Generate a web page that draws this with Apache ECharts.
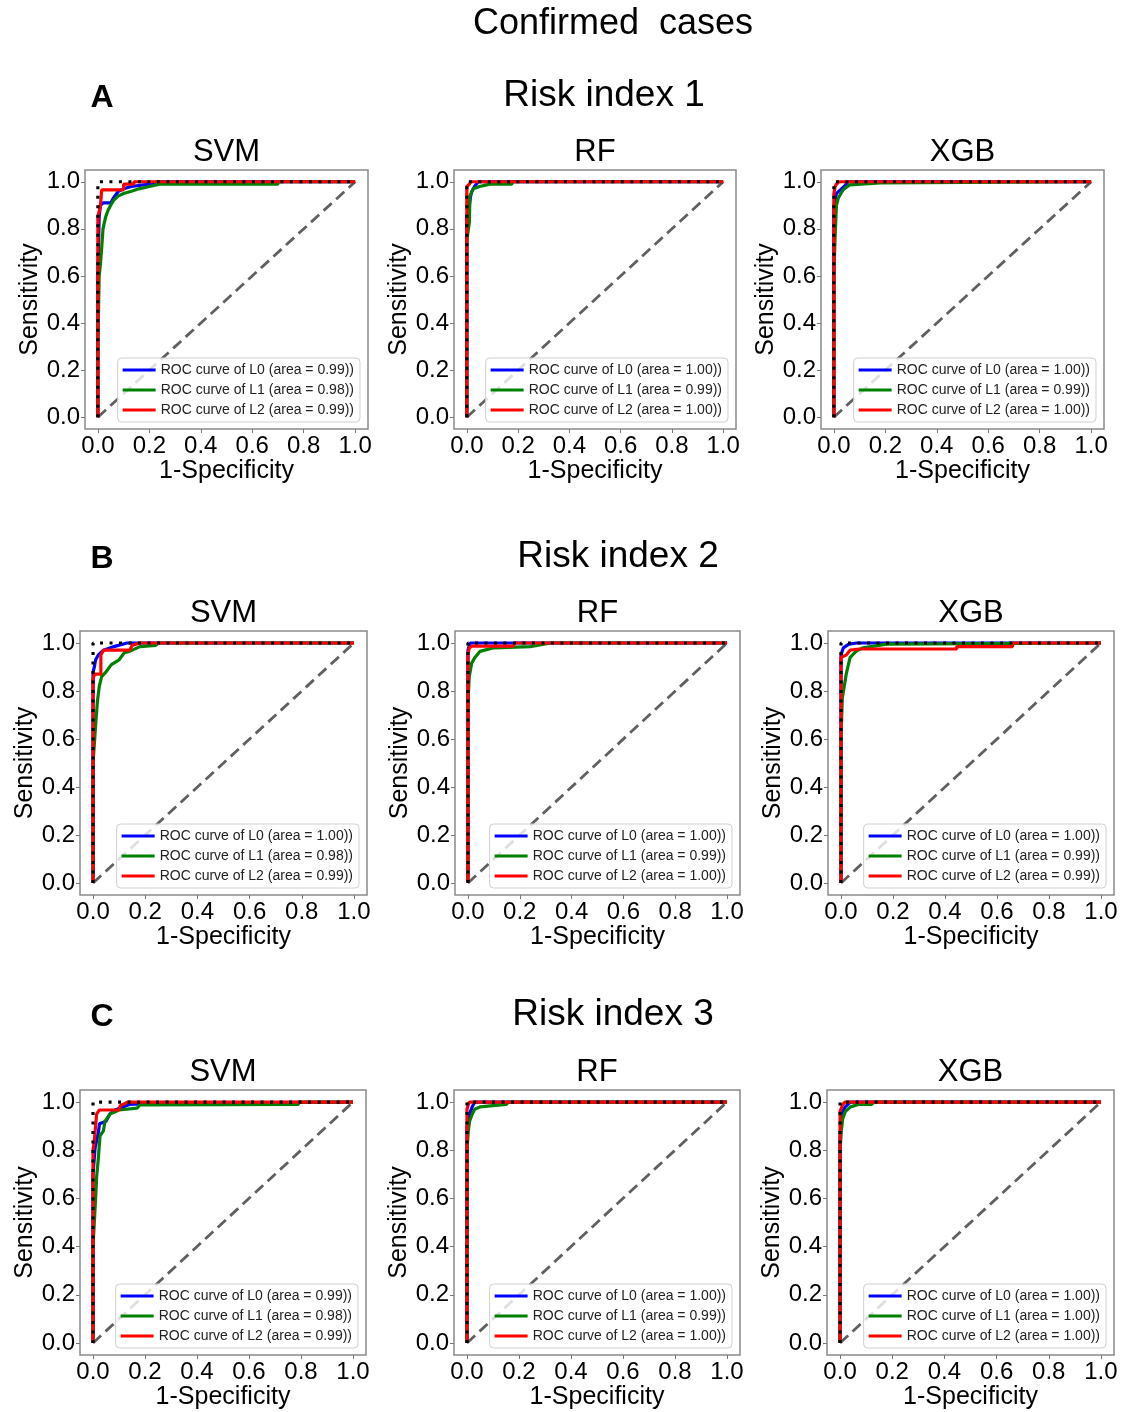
<!DOCTYPE html>
<html>
<head>
<meta charset="utf-8">
<script src="https://cdn.jsdelivr.net/npm/echarts@6/dist/echarts.min.js"></script>
<style>
html, body { margin: 0; padding: 0; background: #fff; }
#chart { width: 1126px; height: 1412px; }
</style>
</head>
<body>
<div id="chart"></div>
<script>
var models = ["SVM", "RF", "XGB"];
var riskTitles = ["Risk index 1", "Risk index 2", "Risk index 3"];
var panelLetters = ["A", "B", "C"];
var levels = ["L0", "L1", "L2"];
var tickValues = [0, 0.2, 0.4, 0.6, 0.8, 1.0];

// areas printed in the legends, [L0, L1, L2] for SVM, RF, XGB
var aucRisk1 = [["0.99", "0.98", "0.99"], ["1.00", "0.99", "1.00"], ["1.00", "0.99", "1.00"]];
var aucRisk2 = [["1.00", "0.98", "0.99"], ["1.00", "0.99", "1.00"], ["1.00", "0.99", "0.99"]];
var aucRisk3 = [["0.99", "0.98", "0.99"], ["1.00", "0.99", "1.00"], ["1.00", "1.00", "1.00"]];

// ROC points [1-specificity, sensitivity]
var r1_svm_L0 = [[0,0],[0,0.6],[0.005,0.85],[0.01,0.9],[0.02,0.91],[0.05,0.91],[0.06,0.93],[0.08,0.96],[0.1,0.97],[0.13,0.98],[0.2,0.99],[0.23,1],[1,1]];
var r1_svm_L1 = [[0,0],[0,0.3],[0.005,0.6],[0.01,0.65],[0.015,0.72],[0.02,0.8],[0.03,0.85],[0.04,0.88],[0.05,0.9],[0.06,0.92],[0.08,0.94],[0.1,0.95],[0.13,0.96],[0.16,0.97],[0.2,0.98],[0.24,0.99],[0.7,0.99],[0.7,1],[1,1]];
var r1_svm_L2 = [[0,0],[0,0.85],[0.01,0.9],[0.015,0.966],[0.1,0.966],[0.1,0.99],[0.14,0.99],[0.14,1],[1,1]];
var r1_rf_L0 = [[0,0],[0,0.85],[0.01,0.9],[0.015,0.94],[0.02,0.96],[0.03,0.98],[0.045,1],[1,1]];
var r1_rf_L1 = [[0,0],[0,0.75],[0.01,0.83],[0.012,0.94],[0.025,0.97],[0.05,0.98],[0.09,0.99],[0.175,0.99],[0.18,1],[1,1]];
var r1_rf_L2 = [[0,0],[0,0.98],[0.01,0.99],[0.015,1],[1,1]];
var r1_xgb_L0 = [[0,0],[0,0.9],[0.01,0.95],[0.02,0.96],[0.04,0.98],[0.055,1],[1,1]];
var r1_xgb_L1 = [[0,0],[0,0.6],[0.005,0.77],[0.01,0.9],[0.017,0.93],[0.036,0.966],[0.062,0.987],[0.18,0.995],[0.18,1],[1,1]];
var r1_xgb_L2 = [[0,0],[0,0.95],[0.005,0.98],[0.01,0.99],[0.02,1],[1,1]];

var r2_svm_L0 = [[0,0],[0,0.88],[0.005,0.9],[0.01,0.93],[0.02,0.95],[0.04,0.97],[0.08,0.985],[0.13,1],[1,1]];
var r2_svm_L1 = [[0,0],[0,0.5],[0.005,0.58],[0.01,0.66],[0.017,0.76],[0.024,0.82],[0.033,0.86],[0.05,0.88],[0.07,0.91],[0.1,0.93],[0.12,0.96],[0.14,0.965],[0.18,0.985],[0.24,0.99],[0.25,1],[1,1]];
var r2_svm_L2 = [[0,0],[0,0.85],[0.005,0.87],[0.03,0.87],[0.03,0.95],[0.04,0.97],[0.14,0.97],[0.15,0.99],[0.18,1],[1,1]];
var r2_rf_L0 = [[0,0],[0,0.97],[0.008,1],[1,1]];
var r2_rf_L1 = [[0,0],[0,0.75],[0.005,0.86],[0.014,0.915],[0.027,0.94],[0.046,0.965],[0.1,0.98],[0.24,0.985],[0.32,1],[1,1]];
var r2_rf_L2 = [[0,0],[0,0.95],[0.005,0.98],[0.015,0.987],[0.175,0.987],[0.18,1],[1,1]];
var r2_xgb_L0 = [[0,0],[0,0.95],[0.009,0.98],[0.03,0.995],[0.06,1],[1,1]];
var r2_xgb_L1 = [[0,0],[0,0.6],[0.005,0.77],[0.02,0.87],[0.035,0.94],[0.06,0.967],[0.085,0.98],[0.175,0.995],[0.18,1],[1,1]];
var r2_xgb_L2 = [[0,0],[0,0.94],[0.02,0.95],[0.035,0.97],[0.07,0.975],[0.445,0.975],[0.445,0.985],[0.66,0.985],[0.66,1],[1,1]];

var r3_svm_L0 = [[0,0],[0,0.7],[0.008,0.81],[0.02,0.87],[0.025,0.91],[0.05,0.92],[0.065,0.95],[0.085,0.967],[0.14,0.99],[0.245,0.995],[0.25,1],[1,1]];
var r3_svm_L1 = [[0,0],[0,0.4],[0.01,0.6],[0.014,0.69],[0.02,0.76],[0.027,0.86],[0.04,0.88],[0.046,0.92],[0.065,0.95],[0.1,0.967],[0.17,0.975],[0.18,0.988],[0.79,0.99],[0.79,1],[1,1]];
var r3_svm_L2 = [[0,0],[0,0.8],[0.005,0.84],[0.014,0.95],[0.024,0.967],[0.1,0.967],[0.105,0.985],[0.135,1],[1,1]];
var r3_rf_L0 = [[0,0],[0,0.9],[0.01,0.95],[0.02,0.98],[0.03,1],[1,1]];
var r3_rf_L1 = [[0,0],[0,0.8],[0.005,0.88],[0.01,0.92],[0.02,0.95],[0.03,0.97],[0.05,0.98],[0.1,0.985],[0.15,0.99],[0.16,1],[1,1]];
var r3_rf_L2 = [[0,0],[0,0.97],[0.005,0.99],[0.01,1],[1,1]];
var r3_xgb_L0 = [[0,0],[0,0.85],[0.005,0.95],[0.02,0.98],[0.04,1],[1,1]];
var r3_xgb_L1 = [[0,0],[0,0.8],[0.005,0.88],[0.01,0.93],[0.02,0.96],[0.04,0.98],[0.07,0.99],[0.12,0.99],[0.13,1],[1,1]];
var r3_xgb_L2 = [[0,0],[0,0.96],[0.01,0.99],[0.02,1],[1,1]];

var chanceLine = [[0, 0], [1, 1]];
var perfectLine = [[0, 0], [0, 1], [1, 1]];

var curves = [
	[[r1_svm_L0, r1_svm_L1, r1_svm_L2], [r1_rf_L0, r1_rf_L1, r1_rf_L2], [r1_xgb_L0, r1_xgb_L1, r1_xgb_L2]],
	[[r2_svm_L0, r2_svm_L1, r2_svm_L2], [r2_rf_L0, r2_rf_L1, r2_rf_L2], [r2_xgb_L0, r2_xgb_L1, r2_xgb_L2]],
	[[r3_svm_L0, r3_svm_L1, r3_svm_L2], [r3_rf_L0, r3_rf_L1, r3_rf_L2], [r3_xgb_L0, r3_xgb_L1, r3_xgb_L2]]
];
var aucs = [aucRisk1, aucRisk2, aucRisk3];

// plot frames in pixels; the axes run -0.05..1.05 like matplotlib's margins
var rowTop = [170, 631, 1090];
var rowHeight = [259, 264, 265];
var colLeft = [[85, 454, 821], [80, 455, 828], [80, 454, 827]];
var colWidth = [[283, 282, 283], [287, 285, 286], [286, 286, 287]];
var headY = [96, 557, 1015];
var headX = [604, 618, 613];

var levelColors = ["#0000ff", "#008000", "#ff0000"];
var FONT = "Liberation Sans";
var W = 1126, H = 1412;

function copyPts(a) {
	return a.map(function(p) { return [p[0], p[1]]; });
}

function tickFmt(v) {
	return v.toFixed(1);
}

function buildOption() {
	var grids = [], xAxes = [], yAxes = [], series = [], legends = [], texts = [],
		r, c, k;

	texts.push({
		type: "text", x: 613, y: 24,
		style: { text: "Confirmed  cases", font: "36px '" + FONT + "'", fill: "#000", align: "center", verticalAlign: "middle" }
	});

	for (r = 0; r < 3; r++)
	{
		texts.push({
			type: "text", x: 102, y: headY[r] + 2,
			style: { text: panelLetters[r], font: "bold 32px '" + FONT + "'", fill: "#000", align: "center", verticalAlign: "middle" }
		});
		texts.push({
			type: "text", x: headX[r], y: headY[r],
			style: { text: riskTitles[r], font: "37px '" + FONT + "'", fill: "#000", align: "center", verticalAlign: "middle" }
		});

		for (c = 0; c < 3; c++)
		{
			var g = grids.length,
				gl = colLeft[r][c],
				gw = colWidth[r][c],
				gt = rowTop[r],
				gh = rowHeight[r],
				legendNames = [];

			grids.push({
				left: gl, top: gt, width: gw, height: gh,
				containLabel: false,
				show: true, borderColor: "#8a8a8a", borderWidth: 1.5, backgroundColor: "#fff"
			});

			texts.push({
				type: "text", x: gl + gw / 2, y: gt - 18,
				style: { text: models[c], font: "31px '" + FONT + "'", fill: "#000", align: "center", verticalAlign: "middle" }
			});

			xAxes.push({
				gridIndex: g, type: "value", min: -0.05, max: 1.05,
				axisLine: { show: false, onZero: false },
				axisTick: { show: true, length: 4, customValues: tickValues, lineStyle: { color: "#777" } },
				axisLabel: { customValues: tickValues, fontSize: 24, fontFamily: FONT, color: "#000", margin: 5, formatter: tickFmt },
				splitLine: { show: false },
				name: "1-Specificity", nameLocation: "middle", nameGap: 27,
				nameTextStyle: { fontSize: 25, fontFamily: FONT, color: "#000" }
			});
			yAxes.push({
				gridIndex: g, type: "value", min: -0.05, max: 1.05,
				axisLine: { show: false, onZero: false },
				axisTick: { show: true, length: 4, customValues: tickValues, lineStyle: { color: "#777" } },
				axisLabel: { customValues: tickValues, fontSize: 24, fontFamily: FONT, color: "#000", margin: 5, formatter: tickFmt },
				splitLine: { show: false },
				name: "Sensitivity", nameLocation: "middle", nameGap: 42, nameRotate: 90,
				nameTextStyle: { fontSize: 25, fontFamily: FONT, color: "#000" }
			});

			series.push({
				type: "line", xAxisIndex: g, yAxisIndex: g, data: copyPts(chanceLine),
				showSymbol: false, symbol: "none", silent: true, z: 1,
				lineStyle: { color: "#606060", width: 2.8, type: [11, 6] }
			});

			for (k = 0; k < 3; k++)
			{
				var nm = "ROC curve of " + levels[k] + " (area = " + aucs[r][c][k] + "))";
				legendNames.push(nm);
				series.push({
					type: "line", name: nm, xAxisIndex: g, yAxisIndex: g, data: copyPts(curves[r][c][k]),
					showSymbol: false, symbol: "none", z: 2 + k,
					itemStyle: { color: levelColors[k] },
					lineStyle: { color: levelColors[k], width: 3.2 }
				});
			}

			series.push({
				type: "line", xAxisIndex: g, yAxisIndex: g, data: copyPts(perfectLine),
				showSymbol: false, symbol: "none", silent: true, z: 6,
				lineStyle: { color: "#000", width: 3.2, type: [3, 6.5] }
			});

			legends.push({
				orient: "vertical",
				right: W - (gl + gw) + 8,
				bottom: H - (gt + gh) + 7,
				data: legendNames,
				selectedMode: false,
				icon: "rect", itemWidth: 33, itemHeight: 3, itemGap: 6,
				textStyle: { fontSize: 14, fontFamily: FONT, color: "#222" },
				backgroundColor: "rgba(255,255,255,0.8)",
				borderColor: "#d0d0d0", borderWidth: 1, borderRadius: 4,
				padding: [5, 6, 5, 5],
				z: 10
			});
		}
	}

	return {
		animation: false,
		backgroundColor: "#fff",
		grid: grids,
		xAxis: xAxes,
		yAxis: yAxes,
		legend: legends,
		series: series,
		graphic: texts
	};
}

var myChart = echarts.init(document.getElementById("chart"), null, { renderer: "canvas" });
myChart.setOption(buildOption());
</script>
</body>
</html>
